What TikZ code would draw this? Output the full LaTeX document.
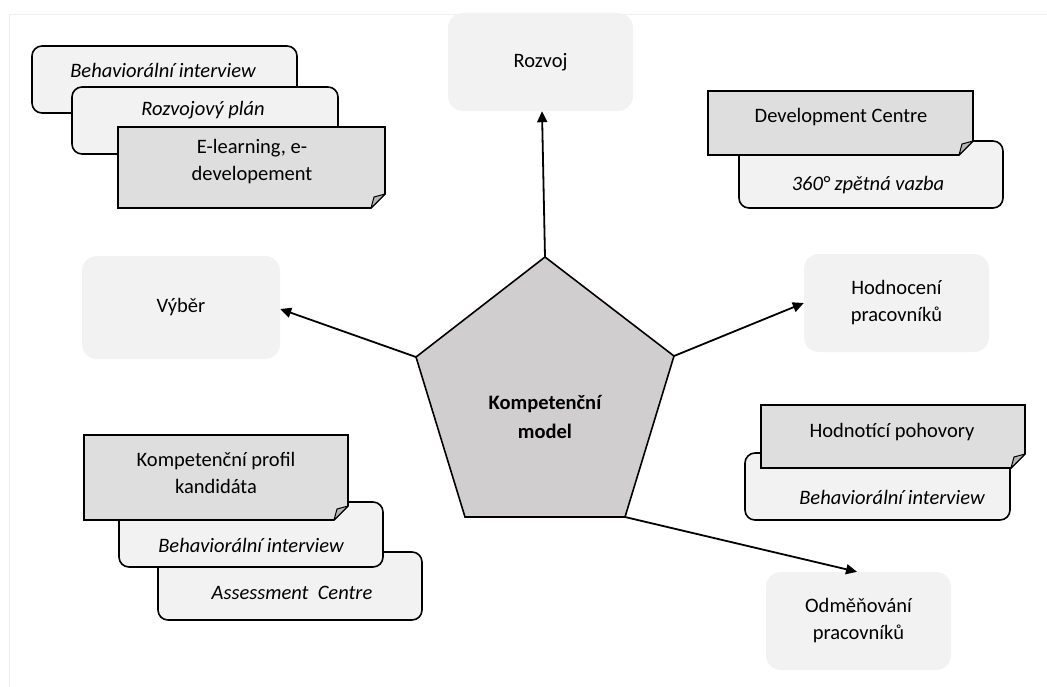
\documentclass[tikz,border=0pt]{standalone}
\usepackage{fontspec}
\setmainfont{Carlito}
\usetikzlibrary{arrows.meta}
\definecolor{boxfill}{HTML}{F2F2F2}
\definecolor{notefill}{HTML}{DEDEDE}
\definecolor{foldfill}{HTML}{B5B5B5}
\definecolor{pentfill}{HTML}{D0CECE}
\definecolor{framecol}{HTML}{EEEEEE}
\tikzset{
  cat/.style={fill=boxfill, rounded corners=15pt, inner sep=0pt, align=center,
    font=\fontsize{20.5}{27}\selectfont},
  stackbox/.style={draw=black, line width=1.6pt, fill=boxfill, rounded corners=10pt, inner sep=0pt, outer sep=0pt},
  notebody/.style={draw=black, line width=1.6pt, fill=notefill, line join=miter},
  notefold/.style={draw=black, line width=1pt, fill=foldfill, line join=round},
  lbl/.style={font=\fontsize{20.5}{27}\selectfont, align=center, inner sep=0pt},
  ilbl/.style={font=\fontsize{20.5}{27}\selectfont\itshape, align=center, inner sep=0pt},
  kmlbl/.style={font=\fontsize{20.5}{29}\selectfont\bfseries, align=center, inner sep=0pt},
  pent/.style={draw=black, line width=1.6pt, fill=pentfill, line join=miter},
  conn/.style={line width=1.8pt, -{Triangle[length=11pt,width=10pt]}},
}
% rounded stacked box: name, x1, y1, x2, y2, text x, text y, text
\newcommand{\stackrbox}[8]{%
  \node[stackbox, minimum width={(#4-#2)*1pt}, minimum height={(#5-#3)*1pt}] (#1-box) at ({(#2+#4)/2},{(#3+#5)/2}) {};
  \node[ilbl] (#1) at (#6,#7) {#8};
}
% note with folded corner: name, x1, y1, x2, y2, text x, text y, text
\newcommand{\notebox}[8]{%
  \coordinate (#1-nw) at (#2,#3);
  \coordinate (#1-ne) at (#4,#3);
  \coordinate (#1-c1) at (#4,#5-14);
  \coordinate (#1-c2) at (#4-14,#5);
  \coordinate (#1-sw) at (#2,#5);
  \draw[notebody] (#1-nw) -- (#1-ne) -- (#1-c1) -- (#1-c2) -- (#1-sw) -- cycle;
  \draw[notefold] (#1-c2) .. controls (#4-13,#5-6) .. (#4-11,#5-11) -- (#1-c1) -- cycle;
  \node[lbl] (#1) at (#6,#7) {#8};
}
\begin{document}
\begin{tikzpicture}[x=1pt,y=-1pt]
\useasboundingbox (0,0) rectangle (1047,686);
\fill[white] (0,0) rectangle (1047,686);
\draw[framecol, line width=1pt] (9,690) -- (9,14) -- (1050,14);

% category boxes
\node[cat, minimum width=185pt, minimum height=98pt] (roz) at (540.5,62) {Rozvoj};
\node[cat, minimum width=198pt, minimum height=103pt] (vyb) at (181,307.5) {Výběr};
\node[cat, minimum width=185pt, minimum height=98pt] (hod) at (896.5,303) {Hodnocení\\pracovníků};
\node[cat, minimum width=185pt, minimum height=98pt] (odm) at (858.5,621) {Odměňování\\pracovníků};

% top-left stack
\stackrbox{tla}{32}{46}{297}{113}{163}{70}{Behaviorální interview}
\stackrbox{tlb}{72}{87}{338}{154}{203}{110}{Rozvojový plán}
\notebox{tlc}{118}{127}{385}{208}{252}{162}{E-learning, e-\\developement}

% top-right stack
\stackrbox{trb}{739}{141}{1003}{208}{868}{185}{360° zpětná vazba}
\notebox{tra}{708}{91}{973}{155}{841}{117}{Development Centre}

% bottom-left stack
\stackrbox{blc}{158}{552}{422}{620}{292}{593}{Assessment~ Centre}
\stackrbox{blb}{119}{502}{383}{567}{251}{545}{Behaviorální interview}
\notebox{bla}{84}{435}{348}{520}{216}{472.5}{Kompetenční profil\\kandidáta}

% bottom-right stack
\stackrbox{brb}{745}{453}{1010}{520}{892}{497}{Behaviorální interview}
\notebox{bra}{761}{405}{1025}{468}{892}{432}{Hodnotící pohovory}

% pentagon
\coordinate (p1) at (545,257);
\coordinate (p2) at (674,356);
\coordinate (p3) at (625,517);
\coordinate (p4) at (465,517);
\coordinate (p5) at (416,357);
\draw[pent] (p1) -- (p2) -- (p3) -- (p4) -- (p5) -- cycle;
\node[kmlbl] (km) at (545,417) {Kompetenční\\model};

% connectors
\draw[conn] (p1) -- ([xshift=1.5pt]roz.south);
\draw[conn] (p5) -- ([yshift=-1.5pt]vyb.east);
\draw[conn] (p2) -- (hod.west);
\draw[conn] (p3) -- ([xshift=-1.5pt]odm.north);
\end{tikzpicture}
\end{document}
